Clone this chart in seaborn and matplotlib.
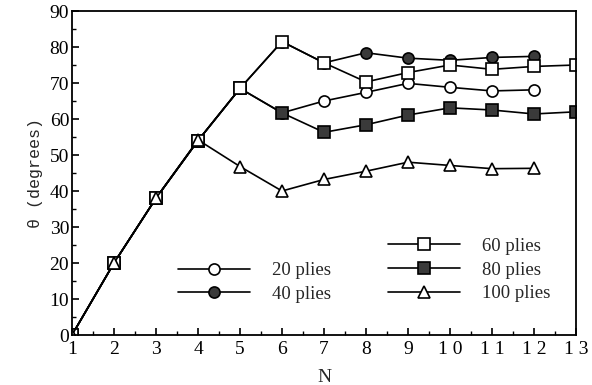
import numpy as np
import pandas as pd
import matplotlib
matplotlib.use("Agg")
import matplotlib.pyplot as plt
from matplotlib.ticker import MultipleLocator
from matplotlib.lines import Line2D
import seaborn as sns

# values
n_full = [1, 2, 3, 4, 5, 6, 7, 8, 9, 10, 11, 12, 13]
n_short = [1, 2, 3, 4, 5, 6, 7, 8, 9, 10, 11, 12]

plies_20 = [0, 20, 38, 54, 68.5, 61.7, 65.0, 67.4, 69.9, 68.8, 67.8, 68.1]
plies_40 = [0, 20, 38, 54, 68.5, 81.5, 75.6, 78.4, 76.9, 76.3, 77.1, 77.4]
plies_60 = [0, 20, 38, 54, 68.5, 81.5, 75.6, 70.3, 72.9, 75.0, 73.8, 74.6, 75.0]
plies_80 = [0, 20, 38, 54, 68.5, 61.7, 56.3, 58.4, 61.1, 63.1, 62.5, 61.4, 62.0]
plies_100 = [0, 20, 38, 54.2, 46.8, 40.0, 43.2, 45.5, 48.0, 47.1, 46.2, 46.3]

x_ticklabels = ["1", "2", "3", "4", "5", "6", "7", "8", "9", "1 0", "1 1", "1 2", "1 3"]

series = [
    ("20 plies", n_short, plies_20, "o", "white", 8),
    ("40 plies", n_short, plies_40, "o", "#3a3a3a", 8),
    ("80 plies", n_full, plies_80, "s", "#3a3a3a", 8.5),
    ("60 plies", n_full, plies_60, "s", "white", 8.5),
    ("100 plies", n_short, plies_100, "^", "white", 9),
]

sns.set_theme(style="ticks")
plt.rcParams["font.family"] = ["Liberation Serif", "DejaVu Serif"]

fig = plt.figure(figsize=(5.92, 3.85), dpi=100)
ax = fig.add_axes([72 / 592, 50 / 385, 504 / 592, 324 / 385])

handles = {}
for label, xs, ys, mk, face, ms in series:
    df = pd.DataFrame({"N": xs, "theta": ys})
    sns.lineplot(data=df, x="N", y="theta", ax=ax, color="black", linewidth=1.2,
                 marker=mk, markersize=ms, markerfacecolor=face,
                 markeredgecolor="black", markeredgewidth=1.2, legend=False)
    handles[label] = Line2D([], [], color="black", linewidth=1.2, marker=mk,
                            markersize=ms, markerfacecolor=face,
                            markeredgecolor="black", markeredgewidth=1.2)

ax.set_xlim(1, 13)
ax.set_ylim(0, 90)
ax.set_xticks(n_full)
ax.set_xticklabels(x_ticklabels)
ax.xaxis.set_minor_locator(MultipleLocator(0.5))
ax.yaxis.set_major_locator(MultipleLocator(10))
ax.yaxis.set_minor_locator(MultipleLocator(5))
ax.tick_params(which="both", direction="in", color="black", labelsize=14,
               labelcolor="black", pad=2)
ax.tick_params(axis="x", which="major", pad=4)
ax.tick_params(which="major", length=5, width=1.2)
ax.tick_params(which="minor", length=3, width=1)
for sp in ax.spines.values():
    sp.set_color("black")
    sp.set_linewidth(1.3)

ax.set_xlabel("N", fontsize=14, labelpad=8)
ax.set_ylabel("θ (degrees)", fontsize=12, family=["Liberation Mono", "DejaVu Sans Mono"],
              labelpad=5)

leg_kw = dict(frameon=False, fontsize=13.5, handlelength=3.85, handletextpad=1.15,
              labelspacing=0.35, borderpad=0, borderaxespad=0, loc="center left")
left = ax.legend([handles["20 plies"], handles["40 plies"]], ["20 plies", "40 plies"],
                 bbox_to_anchor=(178 / 592, 1 - 282.5 / 385),
                 bbox_transform=fig.transFigure, **leg_kw)
ax.add_artist(left)
ax.legend([handles["60 plies"], handles["80 plies"], handles["100 plies"]],
          ["60 plies", "80 plies", "100 plies"],
          bbox_to_anchor=(388 / 592, 1 - 270 / 385),
          bbox_transform=fig.transFigure, **leg_kw)

fig.savefig("out.png", dpi=100)
